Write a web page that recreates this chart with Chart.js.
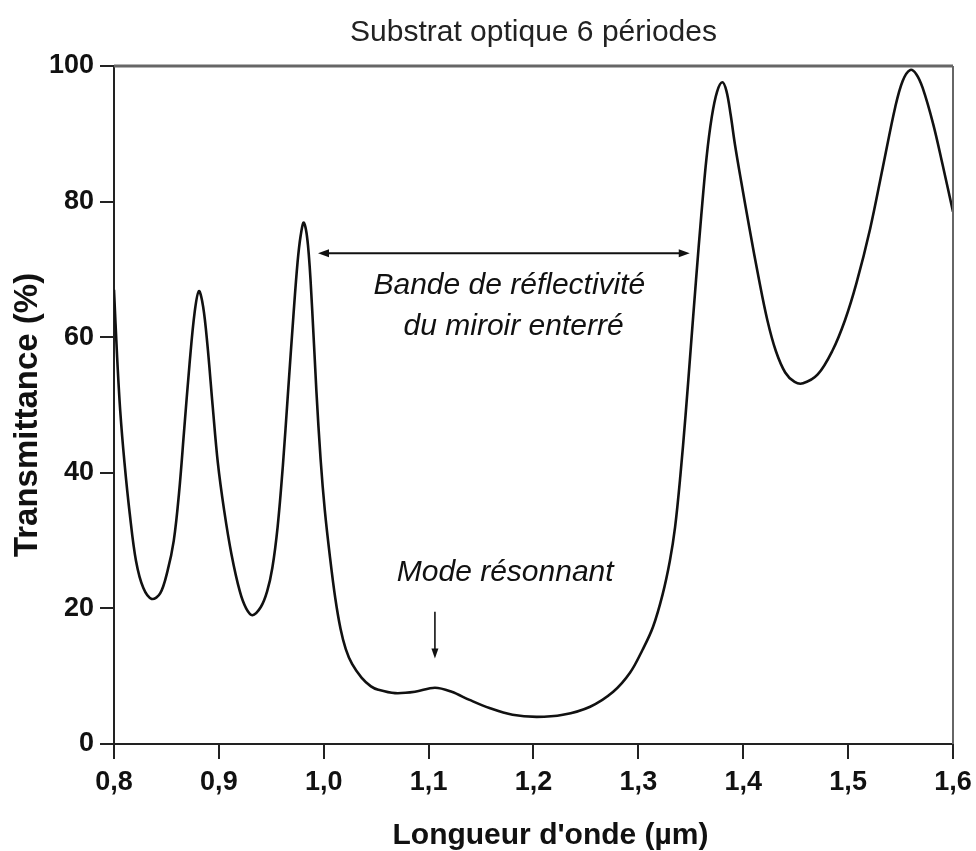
<!DOCTYPE html>
<html>
<head>
<meta charset="utf-8">
<script src="https://cdn.jsdelivr.net/npm/chart.js@4.4.1/dist/chart.umd.min.js"></script>
<style>
  body { margin: 0; background: #fff; }
  #wrap { width: 976px; height: 851px; }
</style>
</head>
<body>
<div id="wrap"><canvas id="transChart" width="976" height="851"></canvas></div>
<script>
// wavelength in µm
var wavelength = [
  0.800, 0.803, 0.806, 0.810, 0.815, 0.821, 0.828, 0.836, 0.844, 0.851,
  0.857, 0.862, 0.867, 0.872, 0.877, 0.881, 0.885, 0.889, 0.894, 0.899,
  0.905, 0.912, 0.920, 0.926, 0.932, 0.940, 0.946, 0.951, 0.956, 0.961,
  0.966, 0.971, 0.975, 0.978, 0.981, 0.985, 0.989, 0.993, 0.997, 1.001,
  1.006, 1.011, 1.016, 1.021, 1.027, 1.036, 1.045, 1.052, 1.068, 1.087,
  1.106, 1.122, 1.139, 1.158, 1.180, 1.203, 1.228, 1.254, 1.276, 1.292,
  1.304, 1.314, 1.323, 1.330, 1.335, 1.340, 1.345, 1.350, 1.355, 1.360,
  1.365, 1.370, 1.375, 1.380, 1.384, 1.388, 1.392, 1.398, 1.406, 1.415,
  1.423, 1.431, 1.440, 1.449, 1.457, 1.471, 1.485, 1.497, 1.508, 1.521,
  1.533, 1.545, 1.552, 1.559, 1.565, 1.571, 1.581, 1.590, 1.600
]
// transmittance in %
var transmittance = [
  67.0, 57.0, 49.0, 41.5, 34.0, 27.0, 23.0, 21.4, 22.2, 25.5,
  30.0, 37.0, 46.5, 56.0, 63.8, 66.8, 64.5, 59.0, 50.0, 41.5,
  34.5, 28.0, 22.5, 20.0, 19.0, 20.2, 22.5, 26.0, 32.0, 41.0,
  52.0, 63.0, 71.0, 75.0, 76.9, 73.5, 64.0, 52.0, 42.0, 34.5,
  27.5, 21.5, 17.0, 14.0, 11.8, 9.8, 8.5, 8.0, 7.5, 7.7,
  8.3, 7.7, 6.5, 5.3, 4.3, 4.0, 4.3, 5.5, 7.7, 10.5,
  13.9, 17.3, 22.0, 27.0, 32.0, 39.5, 48.5, 58.5, 68.5, 78.0,
  86.5, 92.5, 96.2, 97.6, 96.3, 92.8, 88.5, 83.0, 76.0, 68.5,
  62.5, 58.0, 54.8, 53.4, 53.2, 54.5, 58.0, 62.5, 68.0, 76.0,
  85.0, 94.0, 97.8, 99.4, 98.8, 96.8, 91.5, 85.5, 78.5
]
var xTickLabels = ['0,8', '0,9', '1,0', '1,1', '1,2', '1,3', '1,4', '1,5', '1,6']
var yTickLabels = ['0', '20', '40', '60', '80', '100']

var FONT = "'Liberation Sans', Arial, Helvetica, sans-serif"
var INK = '#111'

function arrowHead(ctx, x, y, dx, dy, len, half){
  var px = -dy, py = dx
  ctx.beginPath()
  ctx.moveTo(x, y)
  ctx.lineTo(x - dx * len + px * half, y - dy * len + py * half)
  ctx.lineTo(x - dx * len - px * half, y - dy * len - py * half)
  ctx.closePath()
  ctx.fill()
}

// frame, axis titles, arrows and italic notes
var notes = {
  id: 'notes',
  afterDatasetsDraw(chart){
    var ctx = chart.ctx
    var a = chart.chartArea
    var x = chart.scales.x, y = chart.scales.y
    ctx.save()

    ctx.strokeStyle = '#666'
    ctx.lineWidth = 3
    ctx.beginPath()
    ctx.moveTo(a.left, a.top)
    ctx.lineTo(a.right, a.top)
    ctx.stroke()
    ctx.lineWidth = 2
    ctx.beginPath()
    ctx.moveTo(a.right, a.top)
    ctx.lineTo(a.right, a.bottom)
    ctx.stroke()

    ctx.strokeStyle = INK
    ctx.fillStyle = INK
    ctx.textAlign = 'center'
    ctx.textBaseline = 'middle'

    // axis titles
    ctx.font = 'bold 30px ' + FONT
    ctx.fillText("Longueur d'onde (µm)", (a.left + a.right) / 2 + 17, chart.height - 15)
    ctx.save()
    ctx.translate(28, (a.top + a.bottom) / 2 + 10)
    ctx.rotate(-Math.PI / 2)
    ctx.font = 'bold 33px ' + FONT
    ctx.fillText('Transmittance (%)', 0, 0)
    ctx.restore()

    // reflectivity band
    var bx1 = x.getPixelForValue(0.9945), bx2 = x.getPixelForValue(1.349)
    var by = y.getPixelForValue(72.4)
    ctx.lineWidth = 2
    ctx.beginPath()
    ctx.moveTo(bx1 + 6, by)
    ctx.lineTo(bx2 - 6, by)
    ctx.stroke()
    arrowHead(ctx, bx1, by, -1, 0, 11, 4)
    arrowHead(ctx, bx2, by, 1, 0, 11, 4)

    // resonant mode
    var mx = x.getPixelForValue(1.106)
    var my1 = y.getPixelForValue(19.5), my2 = y.getPixelForValue(12.6)
    ctx.lineWidth = 1.6
    ctx.beginPath()
    ctx.moveTo(mx, my1)
    ctx.lineTo(mx, my2 - 8)
    ctx.stroke()
    arrowHead(ctx, mx, my2, 0, 1, 10, 3.5)

    ctx.font = 'italic 30px ' + FONT
    ctx.fillText('Bande de réflectivité', x.getPixelForValue(1.177), y.getPixelForValue(67.6))
    ctx.fillText('du miroir enterré', x.getPixelForValue(1.181), y.getPixelForValue(61.5))
    ctx.fillText('Mode résonnant', x.getPixelForValue(1.173), y.getPixelForValue(25.3))

    ctx.restore()
  }
}

var points = wavelength.map(function(w, i){ return {x: w, y: transmittance[i]} })

var ctx = document.getElementById('transChart').getContext('2d')
var myChart = new Chart(ctx, {
  type: 'line',
  plugins: [notes],
  data: {
    datasets: [{
      data: points,
      borderColor: INK,
      borderWidth: 2.6,
      pointRadius: 0,
      fill: false,
      tension: 0.35,
    }]
  },
  options: {
    responsive: false,
    animation: false,
    layout: {
      padding: {left: 0, right: 23, top: 0, bottom: 0}
    },
    plugins: {
      legend: { display: false },
      tooltip: { enabled: false },
      title: {
        display: true,
        fullSize: false,
        text: 'Substrat optique 6 périodes',
        color: '#222',
        font: { family: FONT, size: 30, weight: 'normal' },
        padding: { top: 15, bottom: 15 }
      }
    },
    scales: {
      x: {
        type: 'linear',
        min: 0.8,
        max: 1.6,
        afterFit: function(scale){
          scale.height = 107
          scale.paddingLeft = 0
          scale.paddingRight = 0
        },
        border: { display: true, color: '#222', width: 2 },
        grid: { drawOnChartArea: false, tickLength: 15, color: '#222', lineWidth: 2 },
        ticks: {
          stepSize: 0.1,
          padding: 7,
          color: INK,
          maxRotation: 0,
          font: { family: FONT, size: 27, weight: 'bold' },
          callback: function(v, i){ return xTickLabels[i] }
        }
      },
      y: {
        min: 0,
        max: 100,
        afterFit: function(scale){ scale.width = 114 },
        border: { display: true, color: '#222', width: 2 },
        grid: { drawOnChartArea: false, tickLength: 14, color: '#222', lineWidth: 2 },
        ticks: {
          stepSize: 20,
          padding: 6,
          color: INK,
          font: { family: FONT, size: 27, weight: 'bold' },
          callback: function(v, i){ return yTickLabels[i] }
        }
      }
    }
  }
});
</script>
</body>
</html>
